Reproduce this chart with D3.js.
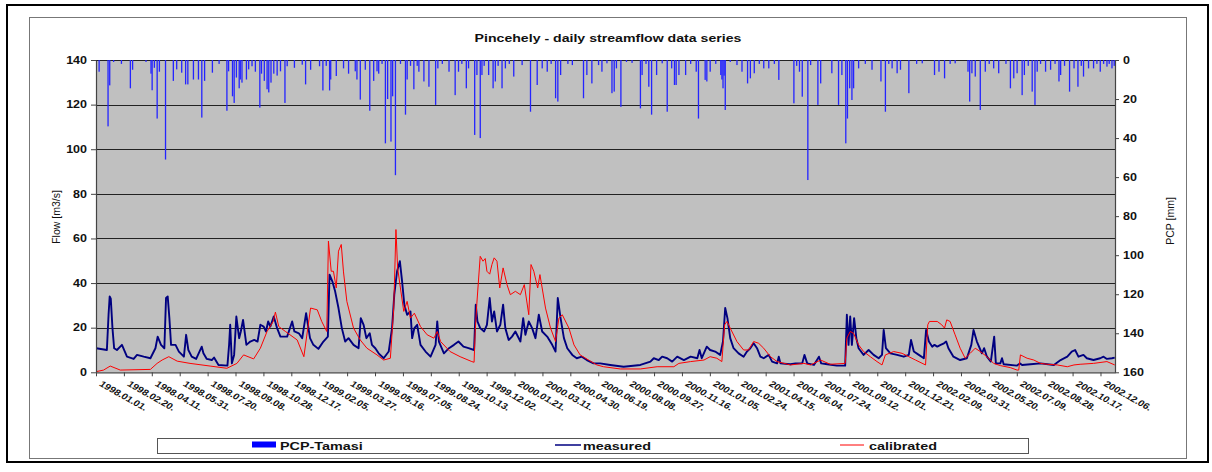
<!DOCTYPE html>
<html><head><meta charset="utf-8">
<script src="https://cdn.jsdelivr.net/npm/d3@7/dist/d3.min.js"></script>
<style>
body{margin:0;background:#fff;}
svg text{font-family:Arial,"Liberation Sans",sans-serif;}
</style></head>
<body><svg id="c" width="1212" height="472"></svg>
<script>
const tickLabels = ["1998.01.01.","1998.02.20.","1998.04.11.","1998.05.31.","1998.07.20.","1998.09.08.","1998.10.28.","1998.12.17.","1999.02.05.","1999.03.27.","1999.05.16.","1999.07.05.","1999.08.24.","1999.10.13.","1999.12.02.","2000.01.21.","2000.03.11.","2000.04.30.","2000.06.19.","2000.08.08.","2000.09.27.","2000.11.16.","2001.01.05.","2001.02.24.","2001.04.15.","2001.06.04.","2001.07.24.","2001.09.12.","2001.11.01.","2001.12.21.","2002.02.09.","2002.03.31.","2002.05.20.","2002.07.09.","2002.08.28.","2002.10.17.","2002.12.06."];
const flowTicks = [0,20,40,60,80,100,120,140];
const pcpTicks = [0,20,40,60,80,100,120,140,160];
// day index since 1998-01-01, precipitation [mm]
const pcpTamasi = [[5,6],[21,34],[24,13],[31,1],[45,2],[61,14.5],[65,5],[89,1],[98,7],[100,15.5],[104,4],[109,30],[113,6],[124,51],[138,10.7],[144,4.8],[153,6.5],[160,12.5],[164,12.5],[174,10],[183,10],[189,29.5],[194,10.7],[208,6.5],[220,2],[234,26],[237,5.8],[244,18.6],[247,22],[251,9],[256,14.5],[258,10],[261,11.6],[269,10],[273,4.8],[279,3.2],[285,6],[293,24.4],[296,7],[301,10.7],[306,15],[309,16.6],[313,11.6],[318,7],[324,8],[330,5.8],[338,22],[342,3.2],[355,4],[369,2.4],[375,12.5],[384,5],[400,3.2],[406,15.6],[412,3],[418,15.6],[420,10],[430,8.2],[443,4.3],[452,7],[464,5.8],[467,10],[473,20.3],[482,5],[490,26],[497,10.7],[503,5.8],[506,7],[512,2],[518,42.7],[522,20],[528,41.8],[531,18.6],[536,59],[545,2],[554,28],[557,10],[563,3],[569,15],[575,3],[578,6],[587,11],[596,13.7],[608,23],[612,4.3],[620,2],[632,6],[643,18],[649,6],[655,2],[663,14.5],[667,4.3],[678,38.4],[682,7.7],[688,40],[691,7.7],[695,3],[703,7.7],[711,14.5],[715,11],[720,3],[727,14.5],[733,4.3],[740,2],[748,8.5],[763,2.6],[778,26.5],[790,12.8],[799,4.3],[808,6],[815,2],[823,19.6],[827,21.3],[832,7.7],[845,2],[853,2.6],[873,19.6],[879,7.7],[888,12],[900,2.6],[906,6],[915,1.7],[924,17],[928,16.2],[932,4.3],[940,24],[950,1],[960,1.5],[975,24.8],[978,7.7],[985,2],[990,13.7],[995,28],[1004,7.7],[1014,1.7],[1023,26.5],[1031,4.3],[1036,12.8],[1039,12.8],[1044,7.7],[1056,7.7],[1065,2],[1075,6],[1079,30],[1091,10.2],[1094,11],[1100,6],[1110,2],[1119,7.7],[1121,10],[1123,14.5],[1125,8],[1127,25.6],[1136,1],[1148,2.6],[1157,6],[1167,12],[1172,9.4],[1179,6.8],[1188,2],[1196,4.3],[1205,4.3],[1215,2],[1223,10.2],[1250,22.2],[1255,3],[1260,6],[1265,18.8],[1275,61.5],[1280,2.6],[1293,23],[1298,12],[1318,6.8],[1330,23],[1336,7.7],[1343,42.7],[1346,30],[1350,14.5],[1354,20.5],[1357,14.5],[1366,4.3],[1378,2],[1390,5],[1406,11],[1414,26.5],[1420,2],[1426,4.3],[1435,6.8],[1441,5],[1456,17],[1470,2],[1480,1.7],[1502,7.7],[1510,6],[1520,9.4],[1530,2],[1539,1.7],[1562,6],[1565,21.3],[1569,6.8],[1575,8.5],[1584,25.6],[1593,6],[1600,2],[1608,4.3],[1617,6.8],[1630,2],[1638,14.5],[1644,9.4],[1650,6.8],[1659,18],[1663,7.7],[1670,3],[1677,16.2],[1682,23],[1686,6],[1692,2],[1701,6],[1710,5],[1718,2],[1725,11],[1728,7.7],[1735,3],[1744,16.2],[1752,4.3],[1759,13.7],[1765,3],[1769,8.5],[1778,4.3],[1787,4.3],[1793,2],[1799,6],[1805,2],[1811,3.4],[1815,2],[1820,4.3],[1824,3]];
// day index, flow [m3/s]
const measured = [[0,10.8],[19,10],[22,25.8],[24,34],[26,33],[29,19.8],[32,10.8],[37,10],[46,12.3],[55,7],[67,6],[73,7.8],[85,7],[97,6.3],[106,10.8],[110,16],[116,12.3],[122,10.8],[125,33.3],[128,34],[131,24.3],[134,12.3],[142,12.3],[148,9.3],[157,7],[161,16.8],[165,10],[171,7],[179,6],[189,11.5],[192,8.5],[198,6],[207,5.5],[211,6.6],[219,3.3],[235,3],[238,12.3],[240,21.3],[243,4],[247,7.8],[251,25],[256,15.3],[259,18.3],[263,23.5],[269,12.3],[276,13.8],[283,14.5],[289,13.8],[294,21.3],[300,20.5],[304,18.3],[308,22.8],[312,20.5],[318,25],[324,19.8],[330,16],[342,16],[351,22.8],[355,18.3],[363,17.5],[369,15.3],[376,26.5],[383,15.3],[389,12.3],[398,10.5],[407,13.8],[415,16],[418,43.8],[423,40.8],[428,36.3],[434,28.8],[440,19.8],[446,13.8],[452,15.3],[461,12.3],[470,10.8],[474,24.3],[479,21.3],[484,15.3],[490,17.5],[494,12.3],[500,10.8],[506,8.5],[515,6.3],[524,9.3],[530,19.8],[534,34.8],[539,45.3],[544,49.8],[548,40.8],[552,30.3],[557,25.8],[563,27.3],[566,15.3],[570,19.8],[575,21.3],[581,12.3],[590,9.3],[599,7],[608,12.3],[611,22.8],[614,13.8],[623,8.5],[632,10.8],[641,12.3],[649,13.8],[658,11.5],[667,10.8],[677,10],[680,30.3],[683,22.8],[688,19.8],[695,18.3],[700,21.3],[705,33.3],[709,22.8],[713,27.3],[718,18.3],[724,21.3],[729,30.3],[733,19.8],[739,14.5],[745,16],[751,18.3],[760,13.8],[765,24.3],[769,16.8],[775,22.8],[781,19.8],[787,15.3],[793,25.8],[799,18.3],[808,16],[817,12.3],[823,9.3],[827,33.3],[832,24.3],[838,15.3],[844,10.8],[853,7.8],[861,6.3],[870,7],[879,5.5],[891,4],[903,4],[921,3.3],[945,2.5],[975,3.3],[993,4.8],[999,6.3],[1008,5.5],[1014,7],[1023,6.3],[1032,4.8],[1041,7],[1053,5.5],[1065,7],[1077,6.3],[1081,10],[1085,6.3],[1094,11.5],[1100,10],[1109,9.3],[1118,7.8],[1123,13.8],[1127,28.8],[1131,24.3],[1136,15.3],[1142,10.8],[1151,8.5],[1160,7],[1166,9.3],[1172,10.8],[1178,13],[1184,10.8],[1190,7],[1196,6.3],[1205,7.8],[1211,4.8],[1220,4],[1223,7],[1226,4],[1244,3.6],[1253,4],[1265,4],[1269,7.8],[1274,4],[1286,3.3],[1295,7],[1299,4],[1310,3.6],[1327,3],[1342,3],[1345,25.8],[1348,12.3],[1351,25],[1354,12.3],[1358,24.3],[1362,15.3],[1366,10.8],[1375,7.8],[1384,10],[1393,7.8],[1402,6.3],[1408,7.8],[1411,19],[1415,10.8],[1423,8.5],[1435,7.8],[1447,7],[1456,7.8],[1460,14.5],[1465,9.3],[1474,7.8],[1483,6.3],[1487,19],[1492,13.8],[1498,11.5],[1502,12.3],[1507,11.5],[1513,12.3],[1519,13],[1523,13.8],[1527,10.8],[1536,7],[1548,5.5],[1560,6.3],[1568,12.3],[1572,19],[1578,13.8],[1583,10.8],[1587,8.5],[1591,10.8],[1596,7],[1603,4.8],[1609,16],[1612,4],[1620,4],[1623,6.3],[1626,3.6],[1650,3],[1655,4],[1659,3.3],[1674,3.6],[1692,4],[1716,3.3],[1728,5.5],[1740,7],[1748,9.3],[1754,10],[1760,7],[1769,7.8],[1775,6.3],[1787,5.5],[1799,6.3],[1805,7],[1811,6],[1820,6.3],[1825,6.6]];
const calibrated = [[0,0.3],[13,1],[25,2.8],[43,1],[97,1.3],[109,4],[118,5.5],[130,7],[145,5],[168,4],[204,2.8],[234,1.8],[252,4],[264,7.8],[282,6],[294,10.8],[306,18.3],[317,22.8],[321,27],[327,20.5],[339,18.3],[360,14.5],[372,7],[384,28.8],[396,28],[404,22.8],[413,18.3],[416,58.8],[421,45.3],[425,45.3],[430,37.8],[434,54.3],[439,57.3],[443,45],[449,31.8],[461,19.8],[473,14.5],[485,10.8],[503,7.8],[515,5.5],[527,6.3],[533,28.8],[537,64],[540,46.8],[545,37.8],[551,27.3],[557,31.8],[563,24.3],[570,26.5],[581,20.5],[593,16.8],[605,15.3],[611,18.3],[617,13.8],[634,9.3],[652,7],[673,4.8],[677,4.5],[679,18.3],[682,31],[688,52],[693,49.8],[697,51],[700,45.3],[705,44],[709,48.3],[713,51.3],[718,49.8],[723,37.8],[729,46.8],[736,39.3],[742,34.8],[751,36.3],[760,34.8],[767,39.3],[775,25.8],[779,48.3],[784,45.3],[791,37.8],[795,43.8],[799,37.8],[805,28.8],[814,19.8],[823,13.8],[829,24.3],[835,25.8],[847,19.8],[856,12.3],[867,7.8],[882,5.5],[897,3.3],[909,2.5],[939,1.5],[975,1.5],[1005,2.5],[1035,2.5],[1044,4],[1065,4.8],[1089,5.5],[1100,7],[1112,6.3],[1121,4.8],[1126,21.3],[1130,22.8],[1136,19.8],[1148,13.8],[1160,10],[1169,10],[1178,13.8],[1187,13],[1196,10.8],[1208,7],[1220,4.8],[1244,3.3],[1268,4],[1280,3.3],[1298,5.5],[1315,3.6],[1342,4],[1345,15.3],[1351,18.3],[1357,17.5],[1366,12.3],[1375,9.3],[1387,7],[1399,4.8],[1408,3.3],[1414,7.8],[1429,9.3],[1444,8.5],[1456,7],[1468,5.5],[1486,3.3],[1490,21.3],[1493,22.8],[1507,22.8],[1515,21.3],[1520,19.8],[1524,23.5],[1530,22.8],[1539,16.8],[1548,10.8],[1557,6.3],[1566,8.5],[1575,10.8],[1584,9.3],[1596,7],[1608,4],[1620,3],[1638,2.1],[1650,1],[1653,1],[1656,7.8],[1668,6.3],[1680,5.5],[1692,4],[1704,3.6],[1722,3.3],[1740,2.5],[1752,3.3],[1763,3.6],[1787,4],[1811,4.8],[1825,3.3]];
const totalDays = 1826;
const labelStep = 50;

const svg = d3.select("#c");
const L = 96, R = 1115, T = 60, B = 372.3;
const x = d3.scaleLinear().domain([0, totalDays]).range([L, R]);
const yF = d3.scaleLinear().domain([0, 140]).range([B, T]);
const yP = d3.scaleLinear().domain([0, 160]).range([T, B]);
const SX = 1.25; // horizontal stretch of the original picture

// frames
svg.append("rect").attr("x",7).attr("y",5).attr("width",1201).attr("height",457)
  .attr("fill","#fff").attr("stroke","#000").attr("stroke-width",2);
svg.append("rect").attr("x",29.5).attr("y",17.5).attr("width",1157).attr("height",441)
  .attr("fill","none").attr("stroke","#777").attr("stroke-width",1);

// plot area
svg.append("rect").attr("x",L).attr("y",T).attr("width",R-L).attr("height",B-T).attr("fill","#c0c0c0");
svg.append("g").selectAll("line").data(flowTicks.filter(d=>d>0)).join("line")
  .attr("x1",L).attr("x2",R).attr("y1",d=>Math.round(yF(d))+0.5).attr("y2",d=>Math.round(yF(d))+0.5)
  .attr("stroke","#222").attr("stroke-width",1);

// precipitation bars (hanging from top)
svg.append("g").selectAll("rect").data(pcpTamasi).join("rect")
  .attr("x",d=>x(d[0]+0.5)-0.6).attr("y",yP(0)).attr("width",1.3)
  .attr("height",d=>yP(d[1])-yP(0)).attr("fill","#2424ff");

const line = d3.line().x(d=>x(d[0]+0.5)).y(d=>yF(d[1]));
svg.append("path").datum(measured).attr("d",line).attr("fill","none")
  .attr("stroke","#000080").attr("stroke-width",1.9).attr("stroke-linejoin","round");
svg.append("path").datum(calibrated).attr("d",line).attr("fill","none")
  .attr("stroke","#ff0000").attr("stroke-width",1).attr("stroke-linejoin","round");

// axes
const axL = svg.append("g").attr("transform",`translate(${L},0)`)
  .call(d3.axisLeft(yF).tickValues(flowTicks).tickSize(5).tickSizeOuter(0).tickPadding(4));
const axR = svg.append("g").attr("transform",`translate(${R},0)`)
  .call(d3.axisRight(yP).tickValues(pcpTicks).tickSize(4).tickSizeOuter(0).tickPadding(4));
const axB = svg.append("g").attr("transform",`translate(0,${B})`)
  .call(d3.axisBottom(x).tickValues(d3.range(0, tickLabels.length*labelStep, labelStep))
    .tickSize(4).tickSizeOuter(0).tickFormat((d,i)=>tickLabels[i]));
[axL,axR,axB].forEach(a=>{
  a.selectAll("path.domain").attr("stroke","#444").attr("stroke-width",1.2);
  a.selectAll(".tick line").attr("stroke","#444");
  a.selectAll("text").attr("font-family","Arial, 'Liberation Sans', sans-serif")
    .attr("font-weight","bold").attr("fill","#111");
});
axL.selectAll("text").attr("font-size",10).each(function(){
  const w=this.getComputedTextLength(); d3.select(this).attr("textLength",w*SX).attr("lengthAdjust","spacingAndGlyphs");});
axR.selectAll("text").attr("font-size",10).each(function(){
  const w=this.getComputedTextLength(); d3.select(this).attr("textLength",w*SX).attr("lengthAdjust","spacingAndGlyphs");});
axB.selectAll(".tick text").attr("font-size",8.5).attr("y",null).attr("dy",null)
  .attr("text-anchor","start")
  .attr("transform",`translate(2,13) scale(${SX},1) rotate(35)`);

// titles
function stretched(sel){ sel.each(function(){const w=this.getComputedTextLength();
  d3.select(this).attr("textLength",w*SX).attr("lengthAdjust","spacingAndGlyphs");}); return sel;}
stretched(svg.append("text").attr("x",608).attr("y",42).attr("text-anchor","middle")
  .attr("font-size",11.3).attr("font-weight","bold").attr("fill","#111")
  .text("Pincehely - daily streamflow data series"));
svg.append("text").attr("transform",`translate(60,217) rotate(-90)`).attr("text-anchor","middle")
  .attr("font-size",10.5).attr("fill","#111").text("Flow [m3/s]");
svg.append("text").attr("transform",`translate(1174,221) rotate(-90)`).attr("text-anchor","middle")
  .attr("font-size",10.5).attr("fill","#111").text("PCP [mm]");

// legend
const lg = svg.append("g");
lg.append("rect").attr("x",157.5).attr("y",438.5).attr("width",871).attr("height",15)
  .attr("fill","#fff").attr("stroke","#555");
lg.append("rect").attr("x",252).attr("y",441.5).attr("width",24).attr("height",6).attr("fill","#0000ff");
lg.append("line").attr("x1",555).attr("x2",581).attr("y1",445).attr("y2",445).attr("stroke","#000080").attr("stroke-width",1.5);
lg.append("line").attr("x1",840).attr("x2",864).attr("y1",445).attr("y2",445).attr("stroke","#ff0000").attr("stroke-width",1);
[["PCP-Tamasi",280],["measured",583],["calibrated",869]].forEach(([t,px])=>{
  stretched(lg.append("text").attr("x",px).attr("y",449.5).attr("font-size",11.5)
    .attr("font-weight","bold").attr("fill","#111").text(t));
});
</script></body></html>
